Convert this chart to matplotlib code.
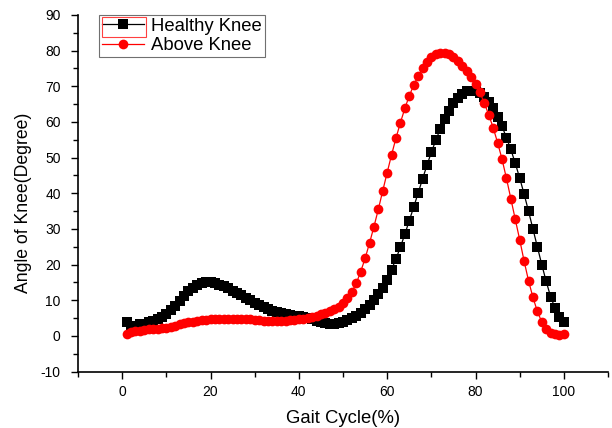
import matplotlib
matplotlib.use("Agg")
import matplotlib.pyplot as plt
from matplotlib.patches import Rectangle
from matplotlib.ticker import MultipleLocator

plt.rcParams['font.family'] = ['Liberation Sans', 'DejaVu Sans']
plt.rcParams['axes.unicode_minus'] = False

gait_cycle = list(range(1, 101))

healthy_knee = [
    3.8, 2.8, 2.9, 3.2, 3.4, 3.8, 4.2, 4.8, 5.4, 6.2,
    7.2, 8.4, 9.8, 11.2, 12.5, 13.5, 14.3, 14.8, 15.0, 15.0,
    14.8, 14.4, 13.9, 13.3, 12.7, 12.1, 11.4, 10.7, 10.0, 9.3,
    8.7, 8.1, 7.6, 7.1, 6.7, 6.4, 6.1, 5.9, 5.7, 5.5,
    5.3, 5.0, 4.7, 4.3, 3.9, 3.6, 3.4, 3.4, 3.6, 4.0,
    4.5, 5.0, 5.7, 6.5, 7.5, 8.6, 10.0, 11.6, 13.5, 15.8,
    18.6, 21.6, 24.9, 28.5, 32.3, 36.1, 40.0, 44.0, 47.8, 51.5,
    54.8, 58.0, 60.8, 63.2, 65.2, 66.8, 67.9, 68.6, 68.8, 68.6,
    68.0, 67.0, 65.6, 63.8, 61.5, 58.8, 55.6, 52.3, 48.4, 44.3,
    39.8, 35.0, 30.0, 25.0, 20.0, 15.3, 11.0, 7.8, 5.4, 3.8,
]

above_knee = [
    0.6, 1.0, 1.3, 1.5, 1.6, 1.8, 1.9, 2.0, 2.1, 2.3,
    2.6, 2.9, 3.2, 3.5, 3.8, 4.0, 4.2, 4.4, 4.5, 4.6,
    4.7, 4.75, 4.8, 4.8, 4.8, 4.8, 4.75, 4.7, 4.6, 4.5,
    4.4, 4.3, 4.3, 4.2, 4.2, 4.2, 4.3, 4.4, 4.5, 4.6,
    4.8, 5.0, 5.3, 5.6, 6.0, 6.4, 6.9, 7.5, 8.2, 9.1,
    10.5, 12.4, 14.7, 18.0, 21.7, 26.0, 30.6, 35.5, 40.7, 45.8,
    50.8, 55.5, 59.8, 63.8, 67.3, 70.3, 72.9, 75.0, 76.8, 78.2,
    79.0, 79.4, 79.4, 79.0, 78.2, 77.1, 75.8, 74.3, 72.6, 70.7,
    68.3, 65.3, 62.0, 58.4, 54.2, 49.6, 44.2, 38.5, 32.7, 27.0,
    21.0, 15.5, 10.8, 6.9, 3.9, 1.8, 0.9, 0.4, 0.3, 0.4,
]

x_ticks = [0, 20, 40, 60, 80, 100]
y_ticks = [-10, 0, 10, 20, 30, 40, 50, 60, 70, 80, 90]

fig = plt.figure(figsize=(6.12, 4.28), dpi=100)
ax = fig.add_axes([78/612, 1 - 371.5/428, 530/612, (371.5 - 15)/428])

ax.plot(gait_cycle, healthy_knee, color='black', lw=0.9, marker='s',
        markersize=6.5, markeredgewidth=0, label='Healthy Knee')
ax.plot(gait_cycle, above_knee, color='#ff0000', lw=0.9, marker='o',
        markersize=7, markeredgewidth=0, label='Above Knee')

ax.set_xlim(-10, 110)
ax.set_ylim(-10, 90)
ax.set_xticks(x_ticks)
ax.set_yticks(y_ticks)
ax.xaxis.set_minor_locator(MultipleLocator(10))
ax.yaxis.set_minor_locator(MultipleLocator(5))
ax.tick_params(axis='both', which='major', direction='out', length=5,
               width=1, labelsize=10, colors='black')
ax.tick_params(axis='y', which='major', pad=7.5)
ax.tick_params(axis='x', which='major', pad=5)
ax.tick_params(axis='both', which='minor', direction='out', length=3.3, width=1)
ax.spines['top'].set_visible(False)
ax.spines['right'].set_visible(False)
ax.spines['left'].set_linewidth(1.2)
ax.spines['bottom'].set_linewidth(1.2)

ax.set_xlabel('Gait Cycle(%)', fontsize=13.3)
ax.set_ylabel('Angle of Knee(Degree)', fontsize=12.7)
ax.xaxis.set_label_coords(0.5, -0.108)
ax.yaxis.set_label_coords(-0.087, 0.473)

leg = ax.legend(loc='upper left', bbox_to_anchor=(0.04, 1.0), borderaxespad=0,
                fontsize=13.3, fancybox=False, framealpha=1, edgecolor='#707070',
                handlelength=2.3, handletextpad=0.38, labelspacing=0.13,
                borderpad=0.15)
leg.get_frame().set_linewidth(0.8)

fig.add_artist(Rectangle((101.7/612, 1 - 36.7/428), 44/612, 19.4/428,
                         transform=fig.transFigure, fill=False,
                         edgecolor='#ff4040', linewidth=0.8))

fig.savefig('out.png', dpi=100)
